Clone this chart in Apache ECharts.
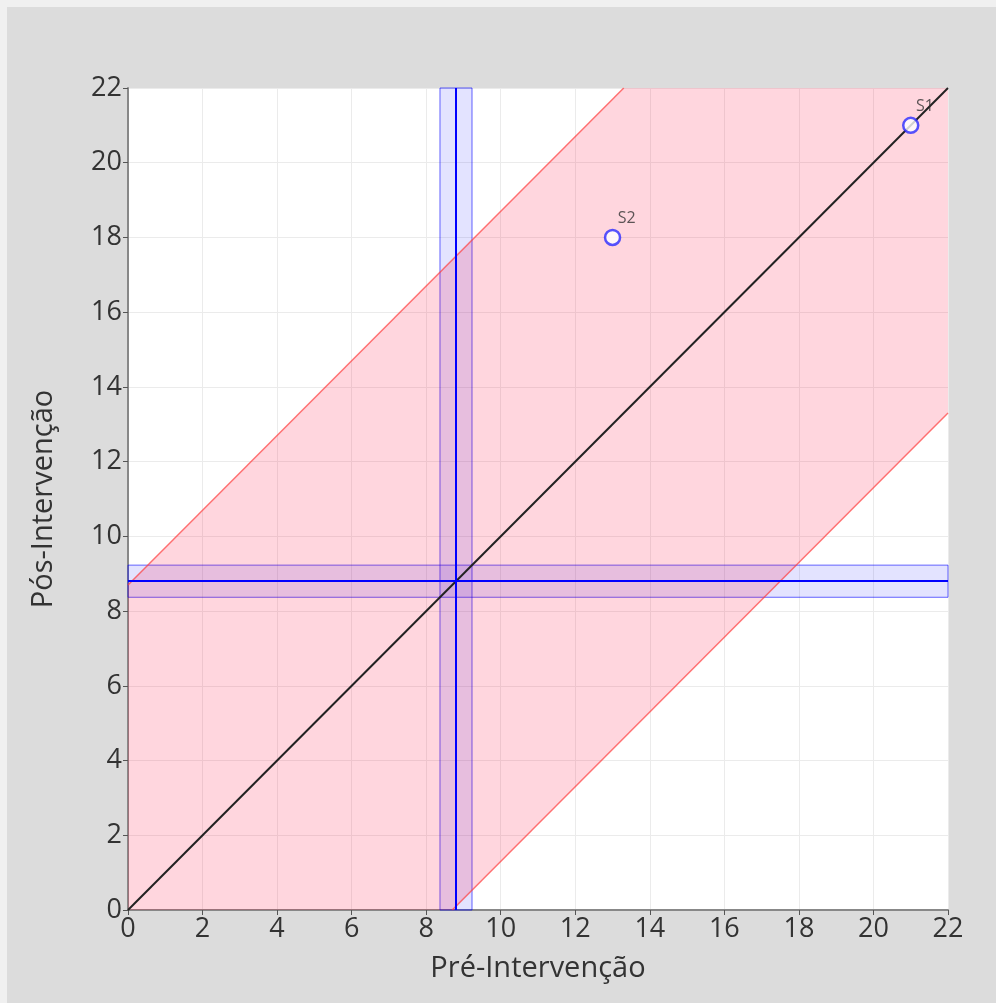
<!DOCTYPE html>
<html>
<head>
<meta charset="utf-8">
<script src="https://cdn.jsdelivr.net/npm/echarts@6/dist/echarts.min.js"></script>
<style>
html,body{margin:0;padding:0;background:#f0f0f0;}
#wrap{position:absolute;left:7px;top:7px;width:989px;height:996px;background:#dcdcdc;}
#chart{position:absolute;left:-7px;top:-7px;width:996px;height:1003px;}
</style>
</head>
<body>
<div id="wrap"><div id="chart"></div></div>
<script>
// Data
var subjectNames = ['S1', 'S2'];
var preValues = [21, 13];
var postValues = [21, 18];
var axisMin = 0, axisMax = 22, axisStep = 2;
var meanPre = 8.8;
var meanPost = 8.8;
var meanHalfWidth = 0.43;
var changeLimit = 8.7;
var xTitle = 'Pré-Intervenção';
var yTitle = 'Pós-Intervenção';

var chart = echarts.init(document.getElementById('chart'), null, {renderer: 'canvas'});

var bandPoly = [
  [axisMin, axisMin],
  [axisMin, axisMin + changeLimit],
  [axisMax - changeLimit, axisMax],
  [axisMax, axisMax],
  [axisMax, axisMax - changeLimit],
  [axisMin + changeLimit, axisMin]
];
var upperEdge = [[axisMin, axisMin + changeLimit], [axisMax - changeLimit, axisMax]];
var lowerEdge = [[axisMin + changeLimit, axisMin], [axisMax, axisMax - changeLimit]];
var identity = [[axisMin, axisMin], [axisMax, axisMax]];
var points = preValues.map(function (v, i) { return {value: [v, postValues[i]], name: subjectNames[i]}; });

var fontFam = '"Open Sans", "Noto Sans", sans-serif';
var axisCommon = {
  type: 'value', min: axisMin, max: axisMax, interval: axisStep,
  axisLine: {show: true, onZero: false, lineStyle: {color: '#888', width: 2}},
  axisTick: {show: true, length: 5, lineStyle: {color: '#555', width: 1}},
  axisLabel: {color: '#333', fontSize: 27, fontFamily: fontFam, margin: 6},
  splitLine: {show: true, lineStyle: {color: '#ebebeb', width: 1}},
  nameLocation: 'middle',
  nameTextStyle: {color: '#333', fontSize: 29, fontFamily: fontFam}
};

chart.setOption({
  backgroundColor: 'transparent',
  animation: false,
  grid: {left: 128, top: 88, right: 48, bottom: 93, backgroundColor: '#fff', show: true, borderWidth: 0},
  xAxis: Object.assign({}, axisCommon, {name: xTitle, nameGap: 44}),
  yAxis: Object.assign({}, axisCommon, {name: yTitle, nameGap: 70}),
  series: [
    {
      type: 'custom',
      data: [0],
      clip: true,
      silent: true,
      renderItem: function (params, api) {
        var pts = bandPoly.map(function (p) { return api.coord(p); });
        return {type: 'polygon', shape: {points: pts}, style: {fill: 'rgba(255,0,49,0.16)'}};
      },
      z: 1
    },
    {
      type: 'line', data: upperEdge, symbol: 'none', silent: true,
      lineStyle: {color: 'rgba(255,60,60,0.7)', width: 1.5}, z: 2
    },
    {
      type: 'line', data: lowerEdge, symbol: 'none', silent: true,
      lineStyle: {color: 'rgba(255,60,60,0.7)', width: 1.5}, z: 2
    },
    {
      type: 'line', data: identity, symbol: 'none', silent: true,
      lineStyle: {color: '#222', width: 2}, z: 3,
      markArea: {
        silent: true,
        itemStyle: {color: 'rgba(0,0,255,0.11)', borderColor: 'rgba(0,0,255,0.6)', borderWidth: 1},
        data: [
          [{xAxis: meanPre - meanHalfWidth, yAxis: axisMin}, {xAxis: meanPre + meanHalfWidth, yAxis: axisMax}],
          [{xAxis: axisMin, yAxis: meanPost - meanHalfWidth}, {xAxis: axisMax, yAxis: meanPost + meanHalfWidth}]
        ]
      },
      markLine: {
        silent: true, symbol: 'none', label: {show: false},
        lineStyle: {color: '#0000ff', width: 2, type: 'solid'},
        data: [{xAxis: meanPre}, {yAxis: meanPost}]
      }
    },
    {
      type: 'scatter', data: points, symbol: 'circle', symbolSize: 15,
      itemStyle: {color: '#fff', borderColor: '#2a2aff', borderWidth: 2.5},
      label: {show: true, formatter: '{b}', position: [14, -18], color: '#333', fontSize: 16, fontFamily: fontFam},
      z: 10
    }
  ]
});
</script>
</body>
</html>
